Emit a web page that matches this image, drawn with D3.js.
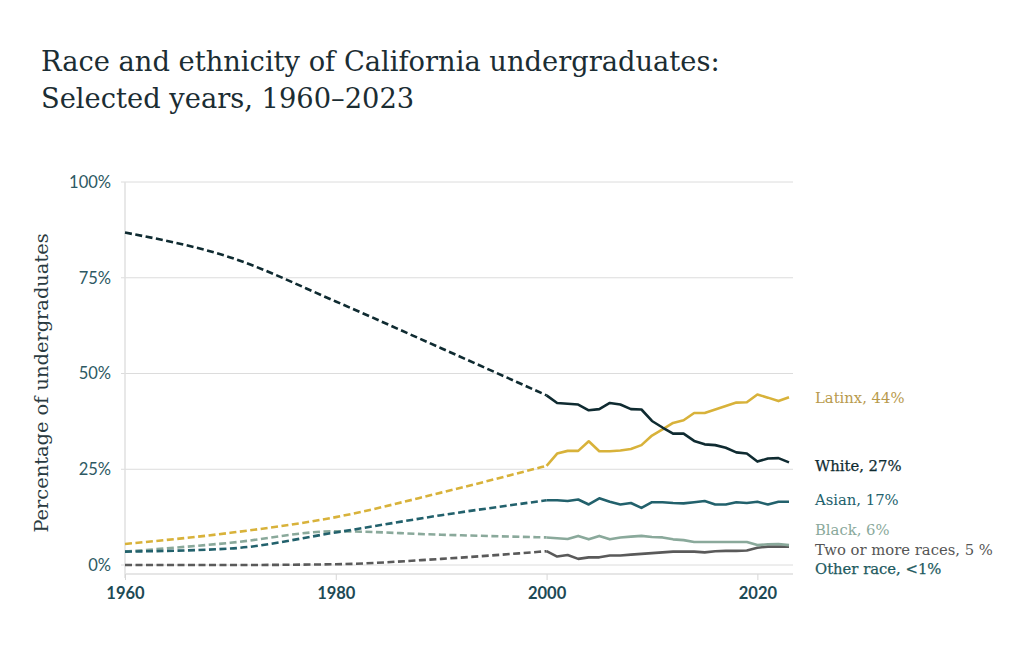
<!DOCTYPE html>
<html>
<head>
<meta charset="utf-8">
<script src="https://cdn.jsdelivr.net/npm/d3@7"></script>
<style>
  body { margin: 0; background: #fff; }
  svg { display: block; }
</style>
</head>
<body>
<div id="chart"></div>
<script>
// Early years (dashed, sparse) and recent years (solid, annual)
const earlyYears = [1960, 1970, 1980, 1990, 2000];
const recentYears = d3.range(2000, 2024);

const whiteEarly = [86.8, 80.3, 68.8, 56.6, 44.3];
const latinxEarly = [5.5, 8.4, 12.5, 18.9, 25.9];
const asianEarly = [3.5, 4.3, 8.5, 13.0, 16.9];
const blackEarly = [3.5, 5.8, 8.8, 7.9, 7.2];
const twoPlusEarly = [0, 0, 0.2, 1.6, 3.6];

const whiteRecent = [44.3, 42.3, 42.1, 41.9, 40.4, 40.7, 42.3, 41.9, 40.7, 40.6, 37.6, 35.9,
  34.3, 34.3, 32.4, 31.5, 31.3, 30.6, 29.4, 29.1, 27.0, 27.8, 27.9, 26.8];
const latinxRecent = [25.9, 29.1, 29.8, 29.8, 32.3, 29.7, 29.7, 29.9, 30.3, 31.3, 33.8, 35.4,
  37.1, 37.8, 39.7, 39.7, 40.6, 41.5, 42.4, 42.5, 44.5, 43.7, 42.8, 43.8];
const asianRecent = [16.9, 16.9, 16.7, 17.1, 15.8, 17.4, 16.5, 15.8, 16.2, 14.9, 16.4, 16.4,
  16.2, 16.1, 16.4, 16.7, 15.8, 15.8, 16.4, 16.2, 16.5, 15.8, 16.5, 16.5];
const blackRecent = [7.2, 7.0, 6.8, 7.6, 6.7, 7.6, 6.7, 7.2, 7.4, 7.6, 7.3, 7.2,
  6.7, 6.5, 6.0, 6.0, 6.0, 6.0, 6.0, 6.0, 5.2, 5.4, 5.5, 5.2];
const twoPlusRecent = [3.6, 2.2, 2.6, 1.6, 2.0, 2.0, 2.5, 2.5, 2.7, 2.9, 3.1, 3.3,
  3.5, 3.5, 3.5, 3.3, 3.6, 3.7, 3.7, 3.8, 4.5, 4.8, 4.8, 4.8];

const yTicks = [0, 25, 50, 75, 100];
const xTicks = [1960, 1980, 2000, 2020];

const series = [
  { name: "Two or more races", early: twoPlusEarly, recent: twoPlusRecent, color: "#5a5a5a" },
  { name: "Black", early: blackEarly, recent: blackRecent, color: "#8aa99b" },
  { name: "Asian", early: asianEarly, recent: asianRecent, color: "#22616c" },
  { name: "Latinx", early: latinxEarly, recent: latinxRecent, color: "#d8b23a" },
  { name: "White", early: whiteEarly, recent: whiteRecent, color: "#0f2b31" }
];

// End labels: text, anchor value, colour, emphasis
const endLabels = [
  { text: "Latinx, 44%", y: 43.6, color: "#b89a4c", strong: false },
  { text: "White, 27%", y: 26.0, color: "#0f2b31", strong: true },
  { text: "Asian, 17%", y: 17.0, color: "#22616c", strong: false },
  { text: "Black, 6%", y: 9.2, color: "#8aa99b", strong: false },
  { text: "Two or more races, 5 %", y: 4.0, color: "#555", strong: false },
  { text: "Other race, <1%", y: -1.1, color: "#1d5a60", strong: true }
];

const width = 1024;
const height = 647;
const margin = { top: 182, right: 232, bottom: 82, left: 125 };

const svg = d3
  .select("#chart")
  .append("svg")
  .attr("width", width)
  .attr("height", height);

const x = d3
  .scaleLinear()
  .domain([1960, 2023])
  .range([margin.left, 789]);

const y = d3
  .scaleLinear()
  .domain([0, 100])
  .range([565, margin.top]);

// Title
const title = svg
  .append("text")
  .attr("x", 41)
  .attr("y", 71)
  .style("font-family", "'DejaVu Serif', serif")
  .style("font-size", "27.3px")
  .attr("fill", "#1b2d33");
title.append("tspan").attr("x", 41).attr("dy", 0).text("Race and ethnicity of California undergraduates:");
title.append("tspan").attr("x", 41).attr("dy", 37).text("Selected years, 1960–2023");

// Grid lines
svg
  .append("g")
  .selectAll("line")
  .data(yTicks)
  .join("line")
  .attr("x1", 121)
  .attr("x2", 793)
  .attr("y1", (d) => y(d))
  .attr("y2", (d) => y(d))
  .attr("stroke", "#dcdcdc")
  .attr("stroke-width", 1);

// Vertical axis line
svg
  .append("line")
  .attr("x1", margin.left)
  .attr("x2", margin.left)
  .attr("y1", y(100))
  .attr("y2", 578)
  .attr("stroke", "#e0e0e0")
  .attr("stroke-width", 1.5);

// X axis
const xAxis = svg
  .append("g")
  .attr("transform", "translate(0,574)")
  .call(
    d3.axisBottom(x)
      .tickValues(xTicks)
      .tickFormat(d3.format("d"))
      .tickSize(6)
      .tickPadding(7)
  );
xAxis.select(".domain").attr("stroke", "#e6e6e6").attr("stroke-width", 2).attr("d", `M${margin.left},0H793`);
xAxis.selectAll(".tick line").attr("stroke", "#d6d6d6");
xAxis
  .selectAll(".tick text")
  .attr("fill", "#1d4a55")
  .style("font-family", "Lato, sans-serif")
  .style("font-size", "16.5px")
  .style("font-weight", 700);

// Y axis labels
svg
  .append("g")
  .selectAll("text")
  .data(yTicks)
  .join("text")
  .attr("x", 111)
  .attr("y", (d) => y(d))
  .attr("dy", "0.36em")
  .attr("text-anchor", "end")
  .attr("fill", "#2d5963")
  .style("font-family", "Lato, sans-serif")
  .style("font-size", "16.5px")
  .text((d) => d + "%");

// Y axis title
svg
  .append("text")
  .attr("transform", "translate(48,383) rotate(-90)")
  .attr("text-anchor", "middle")
  .attr("fill", "#2a3a40")
  .style("font-family", "'DejaVu Serif', serif")
  .style("font-size", "19.4px")
  .text("Percentage of undergraduates");

// Lines
const dashedLine = d3
  .line()
  .x((d) => x(d[0]))
  .y((d) => y(d[1]))
  .curve(d3.curveMonotoneX);

const solidLine = d3
  .line()
  .x((d) => x(d[0]))
  .y((d) => y(d[1]));

const lines = svg.append("g").attr("fill", "none");

series.forEach((s) => {
  lines
    .append("path")
    .datum(earlyYears.map((yr, i) => [yr, s.early[i]]))
    .attr("d", dashedLine)
    .attr("stroke", s.color)
    .attr("stroke-width", 2.6)
    .attr("stroke-dasharray", "7,3.5");

  lines
    .append("path")
    .datum(recentYears.map((yr, i) => [yr, s.recent[i]]))
    .attr("d", solidLine)
    .attr("stroke", s.color)
    .attr("stroke-width", 2.6)
    .attr("stroke-linejoin", "round");
});

// End labels
svg
  .append("g")
  .selectAll("text")
  .data(endLabels)
  .join("text")
  .attr("x", 815)
  .attr("y", (d) => y(d.y))
  .attr("dy", "0.35em")
  .attr("fill", (d) => d.color)
  .attr("stroke", (d) => (d.strong ? d.color : "none"))
  .attr("stroke-width", 0.25)
  .style("font-family", "'DejaVu Serif', serif")
  .style("font-size", "14.8px")
  .text((d) => d.text);
</script>
</body>
</html>
